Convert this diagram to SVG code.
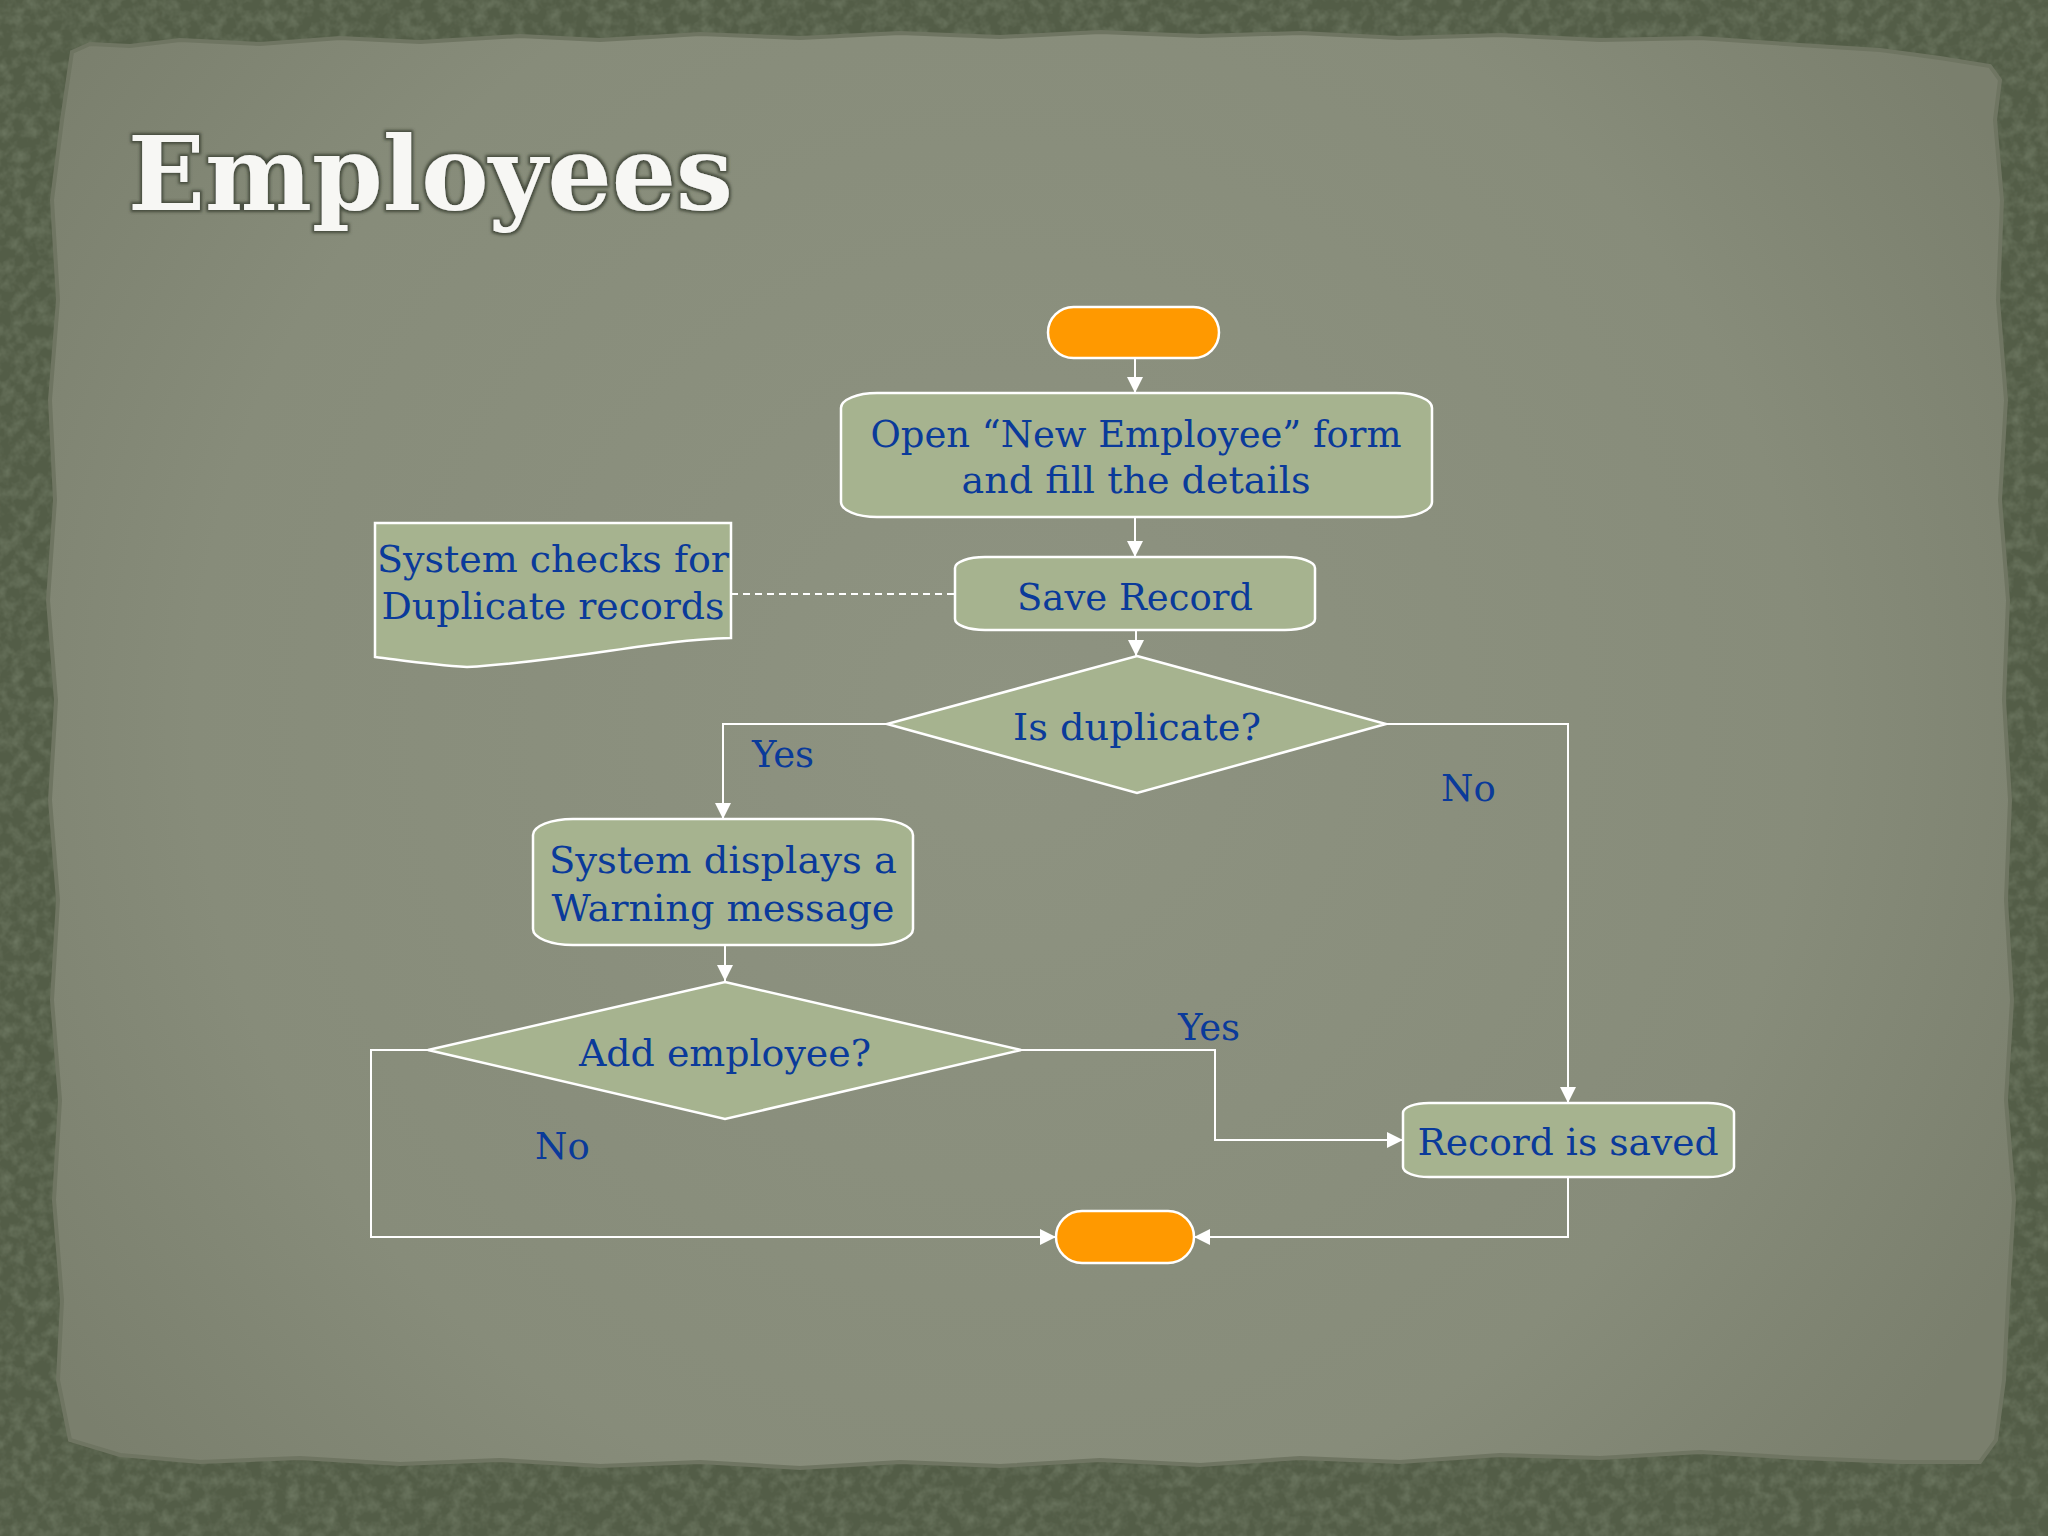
<svg xmlns="http://www.w3.org/2000/svg" width="2048" height="1536" viewBox="0 0 2048 1536">
  <defs>
    <style>
      .node { fill: #a6b38f; stroke: #ffffff; stroke-width: 2.5; }
      .term { fill: #ff9900; stroke: #ffffff; stroke-width: 2.5; }
      .txt { font-family: "DejaVu Serif", "Liberation Serif", serif; font-size: 37px; fill: #0a3a9a; }
      .mid { text-anchor: middle; }
      .conn { fill: none; stroke: #ffffff; stroke-width: 2; }
      .dash { fill: none; stroke: #ffffff; stroke-width: 2; stroke-dasharray: 7 5; }
    </style>
    <marker id="arrow" markerUnits="userSpaceOnUse" markerWidth="16" markerHeight="16" refX="16" refY="8" orient="auto">
      <path d="M0,0 L16,8 L0,16 z" fill="#ffffff"/>
    </marker>
    <radialGradient id="paperGrad" cx="1000" cy="720" r="1150" gradientUnits="userSpaceOnUse">
      <stop offset="0" stop-color="#8e9381"/>
      <stop offset="0.7" stop-color="#878c7a"/>
      <stop offset="1" stop-color="#7a7f6d"/>
    </radialGradient>
    <filter id="noise" x="0" y="0" width="2048" height="1536" filterUnits="userSpaceOnUse">
      <feTurbulence type="fractalNoise" baseFrequency="0.08" numOctaves="3" seed="5" result="n"/>
      <feColorMatrix in="n" type="matrix" values="0 0 0 0 0.22  0 0 0 0 0.26  0 0 0 0 0.18  0 0 0 1.2 -0.45"/>
    </filter>
    <filter id="titleShadow" x="-10%" y="-20%" width="120%" height="150%">
      <feMorphology in="SourceAlpha" operator="dilate" radius="2" result="d"/>
      <feGaussianBlur in="d" stdDeviation="1.5" result="b"/>
      <feFlood flood-color="#3e4436" flood-opacity="0.9"/>
      <feComposite in2="b" operator="in" result="s"/>
      <feMerge><feMergeNode in="s"/><feMergeNode in="SourceGraphic"/></feMerge>
    </filter>
  </defs>

  <!-- background frame -->
  <rect x="0" y="0" width="2048" height="1536" fill="#535d47"/>
  <rect x="0" y="0" width="2048" height="1536" fill="#000" filter="url(#noise)" opacity="0.8"/>
  <path d="M72,52 L90,44 L130,46 L180,40 L260,44 L340,38 L420,42 L520,36 L600,40 L700,34 L800,38 L900,33 L1000,37 L1100,32 L1200,36 L1300,33 L1400,38 L1500,35 L1600,40 L1700,38 L1800,45 L1880,50 L1940,58 L1990,66 L2000,80 L1995,120 L2002,200 L1998,300 L2006,400 L2000,500 L2008,600 L2004,700 L2010,800 L2006,900 L2012,1000 L2006,1100 L2014,1200 L2008,1300 L2004,1380 L1996,1440 L1980,1462 L1900,1462 L1800,1458 L1700,1452 L1600,1458 L1500,1455 L1400,1462 L1300,1458 L1200,1465 L1100,1460 L1000,1466 L900,1462 L800,1468 L700,1462 L600,1466 L500,1460 L400,1464 L300,1458 L200,1462 L120,1455 L70,1440 L58,1380 L62,1300 L54,1200 L60,1100 L52,1000 L58,900 L50,800 L56,700 L48,600 L55,500 L50,400 L58,300 L52,200 L62,120 Z" fill="url(#paperGrad)" stroke="#6f7562" stroke-width="4"/>

  <!-- title -->
  <text x="128" y="210" font-family="'DejaVu Serif', 'Liberation Serif', serif" font-weight="bold" font-size="103" fill="#f7f7f4" textLength="605" lengthAdjust="spacingAndGlyphs" filter="url(#titleShadow)">Employees</text>

  <!-- connectors -->
  <g id="connectors">
    <path class="conn" d="M1135,358 V393" marker-end="url(#arrow)"/>
    <path class="conn" d="M1135,517 V557" marker-end="url(#arrow)"/>
    <path class="conn" d="M1136,630 V656" marker-end="url(#arrow)"/>
    <path class="dash" d="M731,594 H955"/>
    <path class="conn" d="M887,724 H723 V819" marker-end="url(#arrow)"/>
    <path class="conn" d="M1386,724 H1568 V1103" marker-end="url(#arrow)"/>
    <path class="conn" d="M725,945 V981" marker-end="url(#arrow)"/>
    <path class="conn" d="M1021,1050 H1215 V1140 H1403" marker-end="url(#arrow)"/>
    <path class="conn" d="M428,1050 H371 V1237 H1056" marker-end="url(#arrow)"/>
    <path class="conn" d="M1568,1177 V1237 H1194" marker-end="url(#arrow)"/>
    <text class="txt" x="752" y="767">Yes</text>
    <text class="txt" x="1441" y="801">No</text>
    <text class="txt" x="1178" y="1040">Yes</text>
    <text class="txt" x="535" y="1159">No</text>
  </g>

  <!-- nodes -->
  <g id="start">
    <rect class="term" x="1048" y="307" width="171" height="51" rx="25.5" ry="25.5"/>
  </g>
  <g id="open-form">
    <rect class="node" x="841" y="393" width="591" height="124" rx="36" ry="15"/>
    <text class="txt mid" x="1136" y="447" textLength="531" lengthAdjust="spacingAndGlyphs">Open “New Employee” form</text>
    <text class="txt mid" x="1136" y="493" textLength="349" lengthAdjust="spacingAndGlyphs">and fill the details</text>
  </g>
  <g id="note">
    <path class="node" d="M375,523 H731 V638 C650,640 580,660 467,667 C430,665 400,660 375,657 Z"/>
    <text class="txt mid" x="553" y="572" textLength="352" lengthAdjust="spacingAndGlyphs">System checks for</text>
    <text class="txt mid" x="553" y="619" textLength="343" lengthAdjust="spacingAndGlyphs">Duplicate records</text>
  </g>
  <g id="save-record">
    <rect class="node" x="955" y="557" width="360" height="73" rx="30" ry="11"/>
    <text class="txt mid" x="1135" y="610" textLength="236" lengthAdjust="spacingAndGlyphs">Save Record</text>
  </g>
  <g id="is-duplicate">
    <polygon class="node" points="1137,656 1386,724 1137,793 887,724"/>
    <text class="txt mid" x="1137" y="740" textLength="248" lengthAdjust="spacingAndGlyphs">Is duplicate?</text>
  </g>
  <g id="warning">
    <rect class="node" x="533" y="819" width="380" height="126" rx="40" ry="16"/>
    <text class="txt mid" x="723" y="873" textLength="348" lengthAdjust="spacingAndGlyphs">System displays a</text>
    <text class="txt mid" x="723" y="921" textLength="343" lengthAdjust="spacingAndGlyphs">Warning message</text>
  </g>
  <g id="add-employee">
    <polygon class="node" points="725,982 1021,1050 725,1119 428,1050"/>
    <text class="txt mid" x="725" y="1066" textLength="292" lengthAdjust="spacingAndGlyphs">Add employee?</text>
  </g>
  <g id="record-saved">
    <rect class="node" x="1403" y="1103" width="331" height="74" rx="26" ry="10"/>
    <text class="txt mid" x="1568" y="1155" textLength="301" lengthAdjust="spacingAndGlyphs">Record is saved</text>
  </g>
  <g id="end">
    <rect class="term" x="1056" y="1211" width="138" height="52" rx="26" ry="26"/>
  </g>
</svg>
